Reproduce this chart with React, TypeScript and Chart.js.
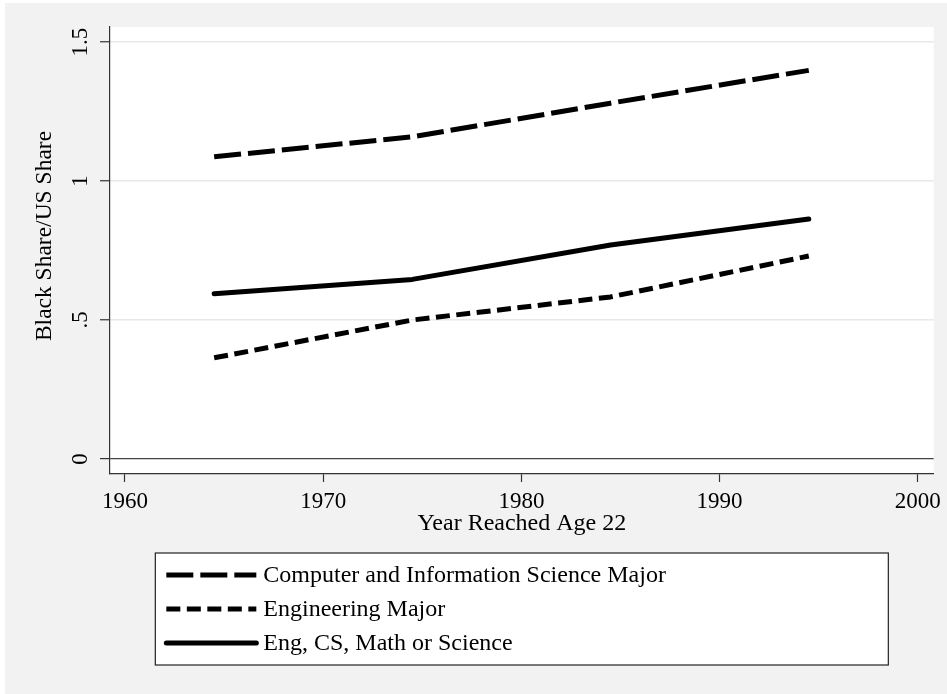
import React, { useEffect, useRef } from "react";
import { Chart, registerables } from "chart.js";

Chart.register(...registerables);

// ---- data ----
const YEARS = [1964.5, 1974.5, 1984.5, 1994.5];
const CS_MAJOR = [1.087, 1.159, 1.28, 1.398];
const ENG_MAJOR = [0.364, 0.5, 0.583, 0.73];
const ANY_STEM = [0.594, 0.646, 0.77, 0.863];

const X_TICKS = [1960, 1970, 1980, 1990, 2000];
const Y_TICKS = [0, 0.5, 1, 1.5];
const Y_TICK_LABELS = ["0", ".5", "1", "1.5"];

const SERIES_LABELS = [
  "Computer and Information Science Major",
  "Engineering Major",
  "Eng, CS, Math or Science",
];
const X_TITLE = "Year Reached Age 22";
const Y_TITLE = "Black Share/US Share";

const FONT = "'Liberation Serif', 'Times New Roman', serif";
const TICK_SIZE = 23;
const TITLE_SIZE = 24;
const LEGEND_SIZE = 24;

const toPoints = (vals: number[]) => YEARS.map((x, i) => ({ x, y: vals[i] }));

const backgroundPlugin = {
  id: "stataBackground",
  beforeDraw(chart: any) {
    const { ctx, chartArea: a, width, height } = chart;
    ctx.save();
    ctx.fillStyle = "#F2F2F2";
    ctx.fillRect(0, 0, width, height);
    ctx.fillStyle = "#FFFFFF";
    ctx.fillRect(a.left, a.top, a.right - a.left, a.bottom - a.top);
    ctx.restore();
  },
};

const yTitlePlugin = {
  id: "yTitle",
  afterDraw(chart: any) {
    const { ctx } = chart;
    ctx.save();
    ctx.translate(40, 233);
    ctx.rotate(-Math.PI / 2);
    ctx.font = `23.5px ${FONT}`;
    ctx.fillStyle = "#000";
    ctx.textAlign = "center";
    ctx.textBaseline = "middle";
    ctx.fillText(Y_TITLE, 0, 0);
    ctx.restore();
  },
};

const legendPlugin = {
  id: "boxLegend",
  afterDraw(chart: any) {
    const { ctx, chartArea: a } = chart;
    const boxW = 733;
    const boxH = 112;
    const left = (a.left + a.right) / 2 - boxW / 2;
    const top = 550;
    ctx.save();
    ctx.fillStyle = "#FFFFFF";
    ctx.fillRect(left, top, boxW, boxH);
    ctx.strokeStyle = "#222";
    ctx.lineWidth = 1.2;
    ctx.strokeRect(left, top, boxW, boxH);
    chart.data.datasets.forEach((ds: any, i: number) => {
      const y = top + 22 + i * 34;
      ctx.save();
      ctx.strokeStyle = ds.borderColor;
      ctx.lineWidth = ds.borderWidth;
      ctx.lineCap = ds.borderCapStyle || "butt";
      ctx.setLineDash(ds.borderDash || []);
      ctx.beginPath();
      ctx.moveTo(left + 11, y);
      ctx.lineTo(left + 101, y);
      ctx.stroke();
      ctx.restore();
      ctx.font = `${LEGEND_SIZE}px ${FONT}`;
      ctx.fillStyle = "#000";
      ctx.textAlign = "left";
      ctx.textBaseline = "middle";
      ctx.fillText(ds.label, left + 108, y + 1);
    });
    ctx.restore();
  },
};

export default function App() {
  const canvasRef = useRef<HTMLCanvasElement | null>(null);

  useEffect(() => {
    const canvas = canvasRef.current;
    if (!canvas) return;
    const tickFont = { family: FONT, size: TICK_SIZE };
    const titleFont = { family: FONT, size: TITLE_SIZE };
    const chart = new Chart(canvas, {
      type: "line",
      data: {
        datasets: [
          {
            label: SERIES_LABELS[0],
            data: toPoints(CS_MAJOR),
            borderColor: "#000",
            borderWidth: 5,
            borderDash: [27, 7],
            borderCapStyle: "butt",
            borderJoinStyle: "round",
            pointRadius: 0,
            tension: 0,
            fill: false,
          },
          {
            label: SERIES_LABELS[1],
            data: toPoints(ENG_MAJOR),
            borderColor: "#000",
            borderWidth: 5,
            borderDash: [14, 6.5],
            borderCapStyle: "butt",
            borderJoinStyle: "round",
            pointRadius: 0,
            tension: 0,
            fill: false,
          },
          {
            label: SERIES_LABELS[2],
            data: toPoints(ANY_STEM),
            borderColor: "#000",
            borderWidth: 5,
            borderDash: [],
            borderCapStyle: "round",
            borderJoinStyle: "round",
            pointRadius: 0,
            tension: 0,
            fill: false,
          },
        ],
      },
      options: {
        responsive: false,
        animation: false,
        devicePixelRatio: 1,
        layout: { padding: { top: 24, right: 11, left: 0, bottom: 150 } },
        plugins: {
          legend: { display: false },
          tooltip: { enabled: false },
        },
        scales: {
          x: {
            type: "linear",
            min: 1959.245,
            max: 2000.8,
            bounds: "data",
            afterBuildTicks: (s: any) => {
              s.ticks = X_TICKS.map((v) => ({ value: v }));
            },
            afterFit: (s: any) => {
              s.height = 70;
            },
            grid: {
              drawOnChartArea: false,
              drawTicks: true,
              tickLength: 8,
              tickColor: "#333",
              tickWidth: 1.2,
            },
            border: { display: true, color: "#333", width: 1.2 },
            ticks: {
              font: tickFont,
              color: "#000",
              padding: 6,
              maxRotation: 0,
              minRotation: 0,
              autoSkip: false,
              callback: (v: any) => String(v),
            },
            title: {
              display: true,
              text: X_TITLE,
              font: titleFont,
              color: "#000",
              padding: { top: 0, bottom: 6 },
            },
          },
          y: {
            type: "linear",
            min: -0.054,
            max: 1.554,
            bounds: "data",
            afterBuildTicks: (s: any) => {
              s.ticks = Y_TICKS.map((v) => ({ value: v }));
            },
            afterFit: (s: any) => {
              s.width = 105;
            },
            grid: {
              color: (c: any) => (c.tick && c.tick.value === 0 ? "#444" : "#E8E8E8"),
              lineWidth: (c: any) => (c.tick && c.tick.value === 0 ? 1.2 : 1.5),
              drawTicks: true,
              tickLength: 10,
              tickColor: "#333",
              tickWidth: 1.2,
            },
            border: { display: true, color: "#333", width: 1.2 },
            ticks: {
              font: tickFont,
              color: "#000",
              padding: 5,
              minRotation: 90,
              maxRotation: 90,
              crossAlign: "center",
              autoSkip: false,
              callback: (_v: any, i: number) => Y_TICK_LABELS[i],
            },
            title: { display: false },
          },
        },
      },
      plugins: [backgroundPlugin, yTitlePlugin, legendPlugin],
    } as any);
    return () => chart.destroy();
  }, []);

  return (
    <div
      style={{
        position: "fixed",
        left: 0,
        top: 0,
        width: 947,
        height: 694,
        background: "#FFFFFF",
        overflow: "hidden",
      }}
    >
      <div style={{ position: "absolute", left: 5, top: 3 }}>
        <canvas
          ref={canvasRef}
          width={942}
          height={691}
          style={{ display: "block", width: 942, height: 691 }}
        />
      </div>
    </div>
  );
}
